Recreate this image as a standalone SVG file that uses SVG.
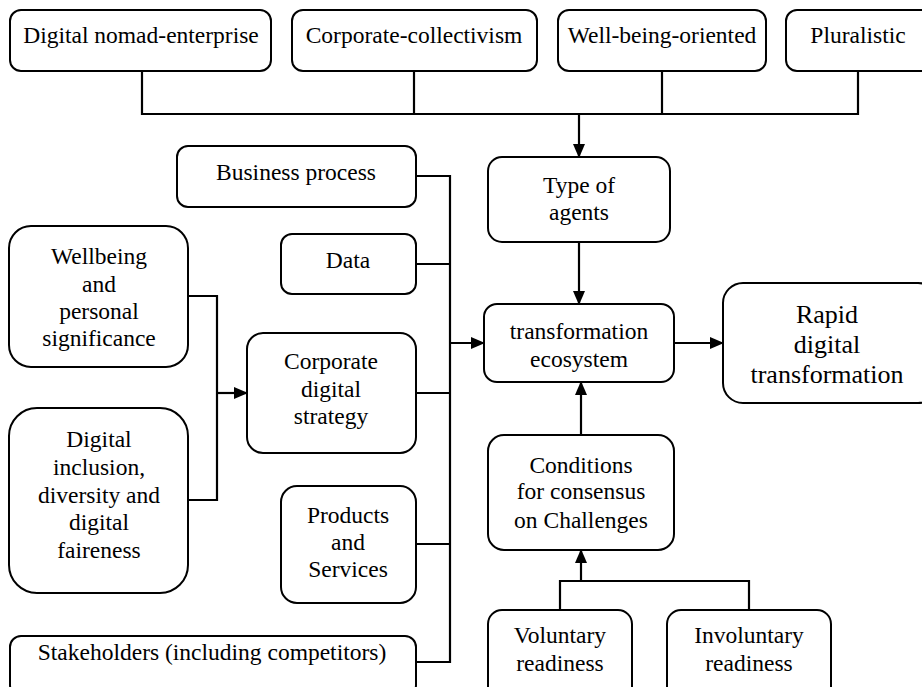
<svg xmlns="http://www.w3.org/2000/svg" width="922" height="687" viewBox="0 0 922 687">
<style>
.box{fill:#fff;stroke:#000;stroke-width:2}
.ln{fill:none;stroke:#000;stroke-width:2.2}
.t text{font-size:23.5px;fill:#000;text-anchor:middle}
.t text.big{font-size:26px}
</style>
<defs>
<marker id="ah" markerUnits="userSpaceOnUse" markerWidth="14" markerHeight="12" refX="13" refY="6" orient="auto">
<path d="M0,0 L14,6 L0,12 z" fill="#000"/>
</marker>
</defs>
<rect width="922" height="687" fill="#fff"/>
<g id="connectors">
<path class="ln" d="M142,71 V114 H858 V71"/>
<path class="ln" d="M414,71 V114"/>
<path class="ln" d="M662,71 V114"/>
<path class="ln" d="M579,114 V157" marker-end="url(#ah)"/>
<path class="ln" d="M579,242 V304" marker-end="url(#ah)"/>
<path class="ln" d="M674,343 H723" marker-end="url(#ah)"/>
<path class="ln" d="M416,176 H450 V662 H416"/>
<path class="ln" d="M416,264 H450"/>
<path class="ln" d="M416,393 H450"/>
<path class="ln" d="M416,544 H450"/>
<path class="ln" d="M450,343 H484" marker-end="url(#ah)"/>
<path class="ln" d="M188,296 H217 V500 H188"/>
<path class="ln" d="M217,393 H247" marker-end="url(#ah)"/>
<path class="ln" d="M581,435 V382" marker-end="url(#ah)"/>
<path class="ln" d="M560,610 V581 H749 V610"/>
<path class="ln" d="M581,581 V550" marker-end="url(#ah)"/>
</g>
<g class="t" font-family="Liberation Serif, Times New Roman, DejaVu Serif, serif">
<g id="n-nomad"><rect class="box" x="10" y="10" width="261" height="61" rx="11"/><text x="141" y="43">Digital nomad-enterprise</text></g>
<g id="n-collectivism"><rect class="box" x="292" y="10" width="245" height="61" rx="11"/><text x="414" y="43">Corporate-collectivism</text></g>
<g id="n-wellbeing-oriented"><rect class="box" x="558" y="10" width="208" height="61" rx="11"/><text x="662" y="43">Well-being-oriented</text></g>
<g id="n-pluralistic"><rect class="box" x="786" y="10" width="150" height="61" rx="11"/><text x="858" y="43">Pluralistic</text></g>
<g id="n-type"><rect class="box" x="488" y="157" width="182" height="85" rx="14"/><text x="579" y="193">Type of</text><text x="579" y="220">agents</text></g>
<g id="n-ecosystem"><rect class="box" x="484" y="304" width="190" height="78" rx="13"/><text x="579" y="339">transformation</text><text x="579" y="367">ecosystem</text></g>
<g id="n-rapid"><rect class="box" x="723" y="283" width="215" height="120" rx="20"/><text class="big" x="827" y="323">Rapid</text><text class="big" x="827" y="353">digital</text><text class="big" x="827" y="383">transformation</text></g>
<g id="n-business"><rect class="box" x="177" y="146" width="239" height="61" rx="11"/><text x="296" y="180">Business process</text></g>
<g id="n-data"><rect class="box" x="281" y="234" width="135" height="60" rx="11"/><text x="348" y="268">Data</text></g>
<g id="n-wellbeing"><rect class="box" x="9" y="226" width="179" height="141" rx="22"/><text x="99" y="264">Wellbeing</text><text x="99" y="292">and</text><text x="99" y="319">personal</text><text x="99" y="346">significance</text></g>
<g id="n-strategy"><rect class="box" x="247" y="333" width="169" height="120" rx="16"/><text x="331" y="369">Corporate</text><text x="331" y="397">digital</text><text x="331" y="424">strategy</text></g>
<g id="n-inclusion"><rect class="box" x="9" y="408" width="179" height="185" rx="28"/><text x="99" y="447">Digital</text><text x="99" y="475">inclusion,</text><text x="99" y="503">diversity and</text><text x="99" y="530">digital</text><text x="99" y="558">faireness</text></g>
<g id="n-products"><rect class="box" x="281" y="486" width="135" height="117" rx="16"/><text x="348" y="523">Products</text><text x="348" y="550">and</text><text x="348" y="577">Services</text></g>
<g id="n-stakeholders"><rect class="box" x="10" y="636" width="406" height="60" rx="11"/><text x="212" y="660">Stakeholders (including competitors)</text></g>
<g id="n-conditions"><rect class="box" x="488" y="435" width="186" height="115" rx="16"/><text x="581" y="473">Conditions</text><text x="581" y="499">for consensus</text><text x="581" y="528">on Challenges</text></g>
<g id="n-voluntary"><rect class="box" x="488" y="610" width="144" height="90" rx="14"/><text x="560" y="643">Voluntary</text><text x="560" y="671">readiness</text></g>
<g id="n-involuntary"><rect class="box" x="667" y="610" width="164" height="90" rx="14"/><text x="749" y="643">Involuntary</text><text x="749" y="671">readiness</text></g>
</g>
</svg>
